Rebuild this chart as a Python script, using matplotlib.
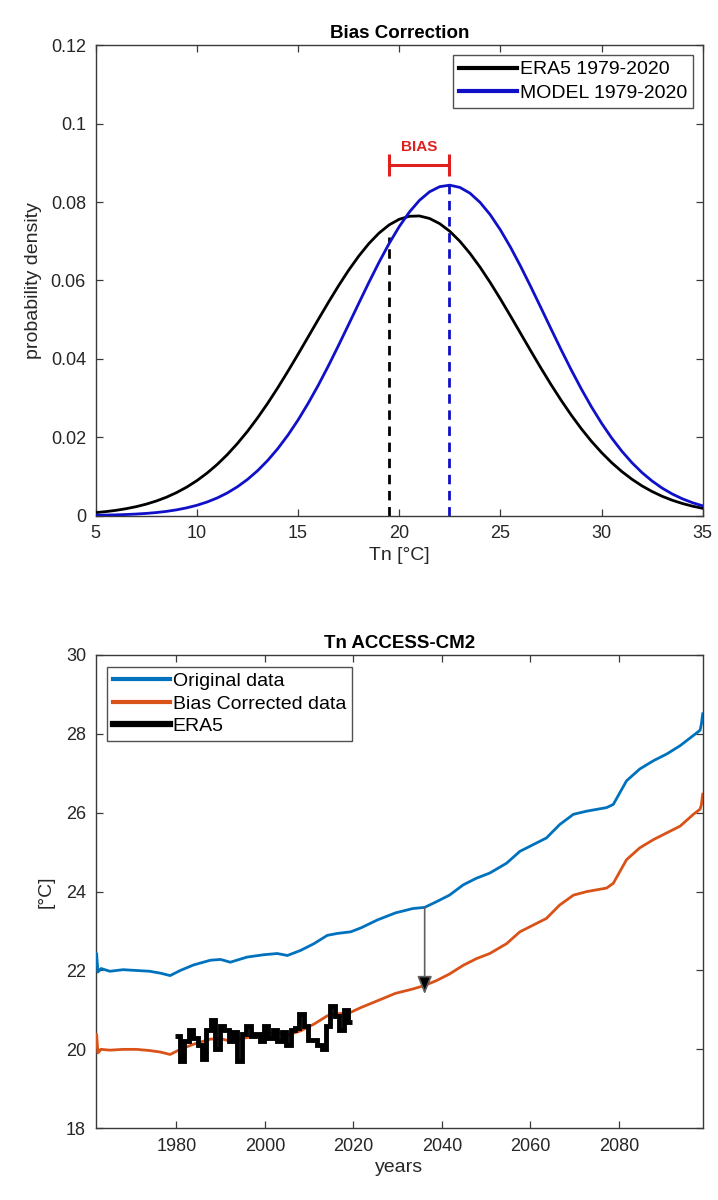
import matplotlib
matplotlib.use("Agg")
import matplotlib.pyplot as plt
from matplotlib.ticker import FuncFormatter

plt.rcParams['font.family'] = ['Liberation Sans', 'DejaVu Sans']

# ---------------- top panel data ----------------
tn = [5 + 0.5 * i for i in range(61)]
era5_pdf = [0.00077, 0.00103, 0.00135, 0.00177, 0.00229, 0.00294, 0.00374, 0.00471,
            0.00589, 0.00728, 0.00893, 0.01084, 0.01304, 0.01555, 0.01838, 0.02150,
            0.02495, 0.02866, 0.03264, 0.03683, 0.04116, 0.04560, 0.05004, 0.05441,
            0.05863, 0.06260, 0.06621, 0.06940, 0.07207, 0.07416, 0.07560, 0.07637,
            0.07645, 0.07581, 0.07449, 0.07254, 0.06998, 0.06688, 0.06335, 0.05945,
            0.05528, 0.05093, 0.04649, 0.04205, 0.03768, 0.03346, 0.02945, 0.02567,
            0.02217, 0.01897, 0.01610, 0.01352, 0.01126, 0.00929, 0.00759, 0.00615,
            0.00493, 0.00392, 0.00309, 0.00241, 0.00187]
model_pdf = [0.00009, 0.00014, 0.00020, 0.00029, 0.00041, 0.00057, 0.00079, 0.00109,
             0.00148, 0.00199, 0.00264, 0.00347, 0.00450, 0.00578, 0.00735, 0.00923,
             0.01146, 0.01408, 0.01710, 0.02054, 0.02439, 0.02865, 0.03327, 0.03821,
             0.04342, 0.04876, 0.05415, 0.05948, 0.06461, 0.06940, 0.07372, 0.07743,
             0.08043, 0.08261, 0.08392, 0.08430, 0.08373, 0.08225, 0.07989, 0.07675,
             0.07290, 0.06848, 0.06361, 0.05843, 0.05308, 0.04768, 0.04235, 0.03721,
             0.03232, 0.02776, 0.02359, 0.01981, 0.01646, 0.01352, 0.01098, 0.00883,
             0.00701, 0.00551, 0.00428, 0.00329, 0.00250]
era5_mean = 19.5
era5_mean_height = 0.071
model_mean = 22.45
model_mean_height = 0.0843
bias_level = 0.0895
pdf_labels = ['ERA5 1979-2020', 'MODEL 1979-2020']

# ---------------- bottom panel data ----------------
years = [1961.8, 1962.0, 1962.3, 1963.0, 1965.0, 1968.0, 1971.0, 1974.0, 1976.5, 1978.6,
         1980.9, 1983.9, 1987.7, 1990.0, 1992.2, 1996.0, 1999.8, 2002.8, 2005.1, 2008.1,
         2011.1, 2014.1, 2016.4, 2019.4, 2021.7, 2025.4, 2029.5, 2033.4, 2036.1, 2038.7,
         2041.7, 2044.8, 2047.8, 2050.8, 2054.6, 2057.6, 2060.6, 2063.6, 2066.6, 2069.7,
         2072.7, 2077.2, 2078.7, 2081.7, 2084.7, 2087.8, 2090.8, 2093.8, 2096.8, 2098.3,
         2098.6, 2098.9]
original = [22.15, 22.43, 21.96, 22.05, 21.98, 22.02, 22.00, 21.98, 21.93, 21.87,
            22.00, 22.14, 22.26, 22.28, 22.21, 22.34, 22.40, 22.43, 22.38, 22.51,
            22.68, 22.89, 22.94, 22.98, 23.08, 23.28, 23.46, 23.57, 23.60, 23.74,
            23.91, 24.17, 24.34, 24.47, 24.72, 25.02, 25.19, 25.36, 25.70, 25.96,
            26.04, 26.13, 26.21, 26.81, 27.11, 27.32, 27.49, 27.70, 27.96, 28.09,
            28.25, 28.51]
corrected = [20.10, 20.38, 19.91, 20.00, 19.98, 20.00, 20.00, 19.97, 19.93, 19.87,
             20.00, 20.13, 20.26, 20.27, 20.21, 20.30, 20.38, 20.42, 20.36, 20.47,
             20.64, 20.85, 20.90, 20.94, 21.06, 21.23, 21.42, 21.53, 21.62, 21.74,
             21.91, 22.13, 22.30, 22.43, 22.68, 22.98, 23.15, 23.32, 23.66, 23.91,
             24.00, 24.09, 24.21, 24.81, 25.11, 25.32, 25.49, 25.66, 25.96, 26.09,
             26.20, 26.47]
era5_years = list(range(1980, 2020))
era5_tn = [20.35, 19.70, 20.20, 20.50, 20.30, 20.10, 19.75, 20.50, 20.75, 20.00,
           20.60, 20.50, 20.20, 20.45, 19.70, 20.40, 20.60, 20.35, 20.40, 20.20,
           20.60, 20.30, 20.50, 20.20, 20.45, 20.10, 20.50, 20.55, 20.90, 20.60,
           20.25, 20.25, 20.10, 20.00, 20.60, 21.10, 20.85, 20.50, 21.00, 20.70]
arrow_year = 2036.1
arrow_from = 23.60
arrow_to = 21.40
series_labels = ['Original data', 'Bias Corrected data', 'ERA5']

# ---------------- styling ----------------
AX_COL = '#3a3a3a'
TXT_COL = '#262626'
FS = 13

fig = plt.figure(figsize=(7.18, 12.0), dpi=100)
ax1 = fig.add_axes([0.1333, 0.5703, 0.8454, 0.3920])
ax2 = fig.add_axes([0.1333, 0.0598, 0.8454, 0.3944])

def style(ax):
    for s in ax.spines.values():
        s.set_color(AX_COL)
        s.set_linewidth(1.0)
    ax.tick_params(direction='in', top=True, right=True, length=5, width=0.9,
                   colors=AX_COL, labelcolor=TXT_COL, labelsize=FS, pad=7)

# ---- top ----
ax1.plot(tn, era5_pdf, color='black', lw=2.0, label=pdf_labels[0], zorder=3)
ax1.plot(tn, model_pdf, color='#1010C8', lw=2.0, label=pdf_labels[1], zorder=3)
ax1.plot([era5_mean, era5_mean], [0, era5_mean_height], color='black', lw=2.0,
         ls=(0, (3.4, 2.4)), zorder=2)
ax1.plot([model_mean, model_mean], [0, model_mean_height], color='#1010C8', lw=2.0,
         ls=(0, (3.4, 2.4)), zorder=2)
ax1.errorbar([(era5_mean + model_mean) / 2], [bias_level],
             xerr=[(model_mean - era5_mean) / 2], color='#E0201E', lw=2.2,
             capsize=8, capthick=2.2, fmt='none')
ax1.text((era5_mean + model_mean) / 2, bias_level + 0.0028, 'BIAS', color='#E0201E',
         fontsize=11, fontweight='bold', ha='center', va='bottom')
ax1.set_xlim(5, 35)
ax1.set_ylim(0, 0.12)
ax1.set_xticks([5, 10, 15, 20, 25, 30, 35])
ax1.set_yticks([0, 0.02, 0.04, 0.06, 0.08, 0.1, 0.12])
ax1.yaxis.set_major_formatter(FuncFormatter(lambda v, p: '%g' % round(v, 3)))
style(ax1)
ax1.set_title('Bias Correction', fontsize=FS + 0.5, fontweight='bold', color='black', pad=5)
ax1.set_xlabel('Tn [°C]', fontsize=FS + 1, color=TXT_COL, labelpad=3)
ax1.set_ylabel('probability density', fontsize=FS + 1, color=TXT_COL, labelpad=6)
leg1 = ax1.legend(loc='upper right', fontsize=14, frameon=True, fancybox=False,
                  edgecolor=TXT_COL, handlelength=3.0, handletextpad=0.15,
                  borderpad=0.3, labelspacing=0.3, borderaxespad=0.5)
leg1.get_frame().set_linewidth(1.0)
for h in leg1.get_lines():
    h.set_linewidth(3.0)

# ---- bottom ----
ax2.plot(years, original, color='#0072BD', lw=2.0, label=series_labels[0], zorder=3)
ax2.plot(years, corrected, color='#D95319', lw=2.0, label=series_labels[1], zorder=3)
edges = [y - 0.2 for y in era5_years] + [era5_years[-1] + 0.8]
ax2.stairs(era5_tn, edges, color='black', lw=3.5, baseline=None, label=series_labels[2],
           zorder=4)
ax2.annotate('', xy=(arrow_year, arrow_to), xytext=(arrow_year, arrow_from),
             arrowprops=dict(arrowstyle='-|>,head_width=0.45,head_length=1.1',
                             fc='black', ec='#606060', lw=1.2, shrinkA=0, shrinkB=0),
             zorder=5)
ax2.set_xlim(1961.8, 2098.9)
ax2.set_ylim(18, 30)
ax2.set_xticks([1980, 2000, 2020, 2040, 2060, 2080])
ax2.set_yticks([18, 20, 22, 24, 26, 28, 30])
style(ax2)
ax2.set_title('Tn ACCESS-CM2', fontsize=FS + 0.5, fontweight='bold', color='black', pad=5)
ax2.set_xlabel('years', fontsize=FS + 1, color=TXT_COL, labelpad=3)
ax2.set_ylabel('[°C]', fontsize=FS + 1, color=TXT_COL, labelpad=8)
leg2 = ax2.legend(loc='upper left', fontsize=14, frameon=True, fancybox=False,
                  edgecolor=TXT_COL, handlelength=2.9, handletextpad=0.15,
                  borderpad=0.3, labelspacing=0.25, borderaxespad=0.6)
leg2.get_frame().set_linewidth(1.0)
for h, w in zip(leg2.get_lines(), [3.0, 3.0, 4.5]):
    h.set_linewidth(w)

fig.savefig('out.png', dpi=100, facecolor='white')
